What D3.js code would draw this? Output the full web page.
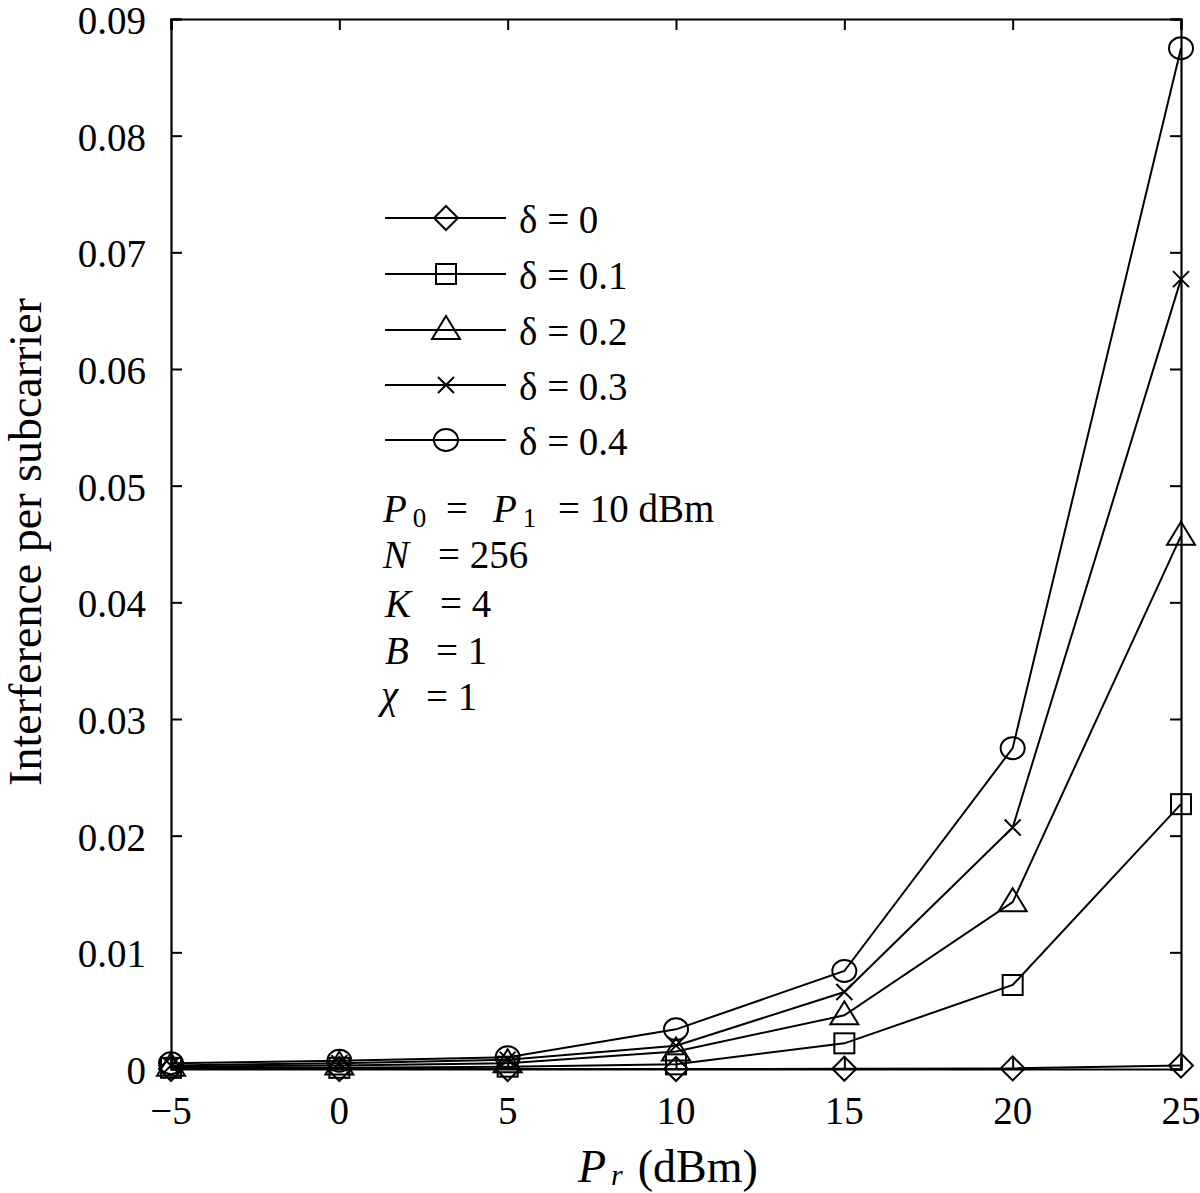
<!DOCTYPE html>
<html>
<head>
<meta charset="utf-8">
<title>Interference per subcarrier</title>
<script src="https://d3js.org/d3.v7.min.js"></script>
<style>
  body { margin: 0; background: #fff; }
  svg text { font-family: "Liberation Serif", "DejaVu Serif", serif; fill: #000; }
</style>
</head>
<body>
<div id="chart"></div>
<script>
// data
const prDbm = [-5, 0, 5, 10, 15, 20, 25];
const deltaLabels = ["δ = 0", "δ = 0.1", "δ = 0.2", "δ = 0.3", "δ = 0.4"];
const markerTypes = ["diamond", "square", "triangle", "cross", "circle"];
const delta0 = [0.0000, 0.0000, 0.0000, 0.0000, 0.00002, 0.00005, 0.0003];
const delta1 = [0.0001, 0.0001, 0.0002, 0.0004, 0.0022, 0.0072, 0.0227];
const delta2 = [0.0002, 0.0003, 0.0005, 0.0015, 0.0046, 0.0143, 0.0457];
const delta3 = [0.0003, 0.0005, 0.0008, 0.0020, 0.0066, 0.0207, 0.0677];
const delta4 = [0.0005, 0.0007, 0.0010, 0.0034, 0.0084, 0.0275, 0.0875];
const seriesValues = [delta0, delta1, delta2, delta3, delta4];
const xTicks = [-5, 0, 5, 10, 15, 20, 25];
const yTicks = [0, 0.01, 0.02, 0.03, 0.04, 0.05, 0.06, 0.07, 0.08, 0.09];

const W = 1200, H = 1193;
const plotL = 171, plotR = 1181, plotT = 19, plotB = 1069;

const svg = d3.select("#chart").append("svg")
  .attr("width", W).attr("height", H);

const x = d3.scaleLinear().domain([-5, 25]).range([plotL, plotR]);
const y = d3.scaleLinear().domain([0, 0.09]).range([plotB, plotT]);

const fmtX = d => d < 0 ? "\u2212" + Math.abs(d) : String(d);
const fmtY = d => d === 0 ? "0" : d3.format(".2f")(d);

// axes: ticks pointing inward on all four sides
const tickLen = 11;
const axB = svg.append("g").attr("transform", `translate(0,${plotB})`)
  .call(d3.axisTop(x).tickValues(xTicks).tickSize(tickLen).tickFormat(""));
const axT = svg.append("g").attr("transform", `translate(0,${plotT})`)
  .call(d3.axisBottom(x).tickValues(xTicks).tickSize(tickLen).tickFormat(""));
const axL = svg.append("g").attr("transform", `translate(${plotL},0)`)
  .call(d3.axisRight(y).tickValues(yTicks).tickSize(tickLen).tickFormat(""));
const axR = svg.append("g").attr("transform", `translate(${plotR},0)`)
  .call(d3.axisLeft(y).tickValues(yTicks).tickSize(tickLen).tickFormat(""));
[axB, axT, axL, axR].forEach(a => {
  a.select(".domain").attr("stroke", "#000").attr("stroke-width", 2.2);
  a.selectAll(".tick line").attr("stroke", "#000").attr("stroke-width", 2);
});

// tick labels
svg.append("g").selectAll("text").data(xTicks).enter().append("text")
  .attr("x", d => x(d)).attr("y", 1124)
  .attr("text-anchor", "middle")
  .style("font-size", "39px")
  .text(fmtX);
svg.append("g").selectAll("text").data(yTicks).enter().append("text")
  .attr("x", 146).attr("y", d => y(d) + 15)
  .attr("text-anchor", "end")
  .style("font-size", "39px")
  .text(fmtY);

// axis titles
svg.append("text")
  .attr("transform", "translate(41,542) rotate(-90)")
  .attr("text-anchor", "middle")
  .style("font-size", "46px")
  .text("Interference per subcarrier");

const xl = svg.append("text").attr("x", 578).attr("y", 1182).style("font-size", "46px");
xl.append("tspan").style("font-style", "italic").text("P");
xl.append("tspan").style("font-style", "italic").style("font-size", "30px").attr("dx", 5).attr("dy", 3).text("r");
xl.append("tspan").attr("dy", -3).attr("dx", 15).text("(dBm)");

// markers
function drawMarker(g, type, cx, cy) {
  let m;
  if (type === "diamond") {
    m = g.append("path").attr("d", `M${cx},${cy - 12}L${cx + 12},${cy}L${cx},${cy + 12}L${cx - 12},${cy}Z`);
  } else if (type === "square") {
    m = g.append("rect").attr("x", cx - 10).attr("y", cy - 10).attr("width", 20).attr("height", 20);
  } else if (type === "triangle") {
    m = g.append("path").attr("d", `M${cx},${cy - 14}L${cx + 14},${cy + 9}L${cx - 14},${cy + 9}Z`);
  } else if (type === "cross") {
    m = g.append("path").attr("d", `M${cx - 8},${cy - 8}L${cx + 8},${cy + 8}M${cx - 8},${cy + 8}L${cx + 8},${cy - 8}`);
  } else {
    m = g.append("ellipse").attr("cx", cx).attr("cy", cy).attr("rx", 12).attr("ry", 11);
  }
  m.attr("fill", "none").attr("stroke", "#000").attr("stroke-width", 2);
}

const line = d3.line().x((d, i) => x(prDbm[i])).y(d => y(d));

seriesValues.forEach((vals, s) => {
  const g = svg.append("g");
  g.append("path").datum(vals)
    .attr("d", line)
    .attr("fill", "none").attr("stroke", "#000").attr("stroke-width", 2);
  vals.forEach((v, i) => drawMarker(g, markerTypes[s], x(prDbm[i]), y(v)));
});

// legend
const legRows = [218, 274, 330, 385, 440];
deltaLabels.forEach((lab, i) => {
  const g = svg.append("g");
  g.append("line").attr("x1", 385).attr("x2", 506)
    .attr("y1", legRows[i]).attr("y2", legRows[i])
    .attr("stroke", "#000").attr("stroke-width", 2);
  drawMarker(g, markerTypes[i], 446, legRows[i]);
  g.append("text").attr("x", 519).attr("y", legRows[i] + 15)
    .style("font-size", "39px").text(lab);
});

// parameter annotation
const notes = svg.append("g").style("font-size", "39px");
function italicSub(xp, yb, main, sub) {
  const t = notes.append("text").attr("x", xp).attr("y", yb);
  t.append("tspan").style("font-style", "italic").text(main);
  if (sub) t.append("tspan").style("font-size", "27px").attr("dx", 6).attr("dy", 5).text(sub);
}
italicSub(383, 522, "P", "0");
notes.append("text").attr("x", 446).attr("y", 522).text("=");
italicSub(493, 522, "P", "1");
notes.append("text").attr("x", 558).attr("y", 522).text("= 10 dBm");
italicSub(383, 568, "N");
notes.append("text").attr("x", 438).attr("y", 568).text("= 256");
italicSub(385, 617, "K");
notes.append("text").attr("x", 440).attr("y", 617).text("= 4");
italicSub(385, 664, "B");
notes.append("text").attr("x", 436).attr("y", 664).text("= 1");
italicSub(381, 708, "χ");
notes.append("text").attr("x", 426).attr("y", 710).text("= 1");
</script>
</body>
</html>
